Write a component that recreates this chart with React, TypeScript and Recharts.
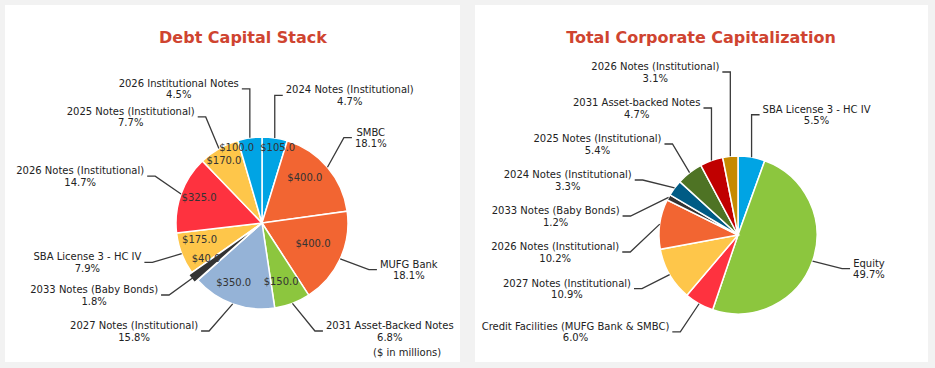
import { Cell, Pie, PieChart } from "recharts";

// Debt Capital Stack ($ in millions), clockwise from 12 o'clock
const debtNames = [
  "2024 Notes (Institutional)",
  "SMBC",
  "MUFG Bank",
  "2031 Asset-Backed Notes",
  "2027 Notes (Institutional)",
  "2033 Notes (Baby Bonds)",
  "SBA License 3 - HC IV",
  "2026 Notes (Institutional)",
  "2025 Notes (Institutional)",
  "2026 Institutional Notes",
];
const debtValues = [105, 400, 400, 150, 350, 40, 175, 325, 170, 100];
const debtColors = [
  "#00a4e4", "#f26532", "#f26532", "#8cc63e", "#95b3d7",
  "#333333", "#fec64a", "#fe323f", "#fec64a", "#00a4e4",
];
const debtExploded = 5; // the Baby Bonds slice is pulled out a little

// Total Corporate Capitalization (%), clockwise from 12 o'clock
const capNames = [
  "SBA License 3 - HC IV",
  "Equity",
  "Credit Facilities (MUFG Bank & SMBC)",
  "2027 Notes (Institutional)",
  "2026 Notes (Institutional)",
  "2033 Notes (Baby Bonds)",
  "2024 Notes (Institutional)",
  "2025 Notes (Institutional)",
  "2031 Asset-backed Notes",
  "2026 Notes (Institutional)",
];
const capValues = [5.5, 49.7, 6.0, 10.9, 10.2, 1.2, 3.3, 5.4, 4.7, 3.1];
const capColors = [
  "#00a4e4", "#8cc63e", "#fe323f", "#fec64a", "#f26532",
  "#333333", "#005b85", "#4e7324", "#c00000", "#c68a00",
];

const FONT = "'DejaVu Sans', Verdana, sans-serif";
const TITLE_COLOR = "#cf4430";
const REACH = 38;

let ctx: CanvasRenderingContext2D | null = null;
function textWidth(s: string) {
  if (!ctx) ctx = document.createElement("canvas").getContext("2d");
  if (!ctx) return s.length * 5.6;
  ctx.font = `10px ${FONT}`;
  return ctx.measureText(s).width;
}

const money = (v: number) => `$${v.toFixed(1)}`;

function midAngles(values: number[]) {
  const total = values.reduce((a, b) => a + b, 0);
  let acc = 0;
  return values.map((v) => {
    const a = ((acc + v / 2) / total) * Math.PI * 2;
    acc += v;
    return a;
  });
}

// outside labels: pick a side, then push them apart vertically
function spreadLabels(values: number[], cy: number, radius: number, gap: number, minY: number, maxY: number) {
  const items = midAngles(values).map((a, i) => ({
    i,
    side: Math.sin(a) >= 0 ? 1 : -1,
    want: cy - radius * Math.cos(a),
  }));
  const ys: number[] = new Array(values.length).fill(0);
  const sides = items.map((it) => it.side);
  for (const side of [1, -1]) {
    const list = items.filter((it) => it.side === side).sort((a, b) => a.want - b.want);
    const groups: { members: typeof list; top: number }[] = [];
    for (const it of list) {
      groups.push({ members: [it], top: it.want });
      while (groups.length > 1) {
        const g = groups[groups.length - 1];
        const p = groups[groups.length - 2];
        if (p.top + p.members.length * gap <= g.top) break;
        p.members.push(...g.members);
        groups.pop();
        const mean = p.members.reduce((s, m) => s + m.want, 0) / p.members.length;
        p.top = mean - ((p.members.length - 1) * gap) / 2;
      }
    }
    const order: number[] = [];
    const pos: number[] = [];
    groups.forEach((g) => g.members.forEach((m, k) => { order.push(m.i); pos.push(g.top + k * gap); }));
    for (let k = 0; k < pos.length; k++) pos[k] = Math.max(pos[k], minY, k ? pos[k - 1] + gap : -Infinity);
    for (let k = pos.length - 1; k >= 0; k--) pos[k] = Math.min(pos[k], maxY, k < pos.length - 1 ? pos[k + 1] - gap : Infinity);
    order.forEach((idx, k) => { ys[idx] = pos[k]; });
  }
  return { ys, sides };
}

// inside value labels: sit near the rim, nudge apart sideways when they collide
function spreadValues(values: number[], r: number) {
  const pts = midAngles(values).map((a, i) => {
    const w = textWidth(money(values[i]));
    const rr = r - 6 - Math.abs(Math.sin(a)) * (w / 2) - Math.abs(Math.cos(a)) * 6;
    return { rr, x: rr * Math.sin(a), y: -rr * Math.cos(a), w, shift: 0 };
  });
  for (let i = 0; i < pts.length; i++) {
    for (let j = i + 1; j < pts.length; j++) {
      const p = pts[i];
      const q = pts[j];
      const need = (p.w + q.w) / 2 + 6;
      const dx = q.x + q.shift - (p.x + p.shift);
      if (Math.abs(q.y - p.y) < 12 && Math.abs(dx) < need) {
        const push = (need - Math.abs(dx)) / 2;
        const dir = dx >= 0 ? 1 : -1;
        p.shift -= dir * push;
        q.shift += dir * push;
      }
    }
  }
  return pts;
}

function makeLabel(names: string[], layout: { ys: number[]; sides: number[] }) {
  return (props: any) => {
    const { cx, cy, midAngle, outerRadius, percent, index } = props;
    const rad = Math.PI / 180;
    const sx = cx + outerRadius * Math.cos(-midAngle * rad);
    const sy = cy + outerRadius * Math.sin(-midAngle * rad);
    const side = layout.sides[index];
    const y = layout.ys[index];
    const R = outerRadius + REACH;
    const dx = Math.sqrt(Math.max(R * R - (y - cy) * (y - cy), 0));
    let ax = cx + side * dx;
    ax = side > 0 ? Math.max(ax, sx + 8) : Math.min(ax, sx - 8);
    const ex = ax - side * 8;
    const name = names[index];
    const pct = `${(percent * 100).toFixed(1)}%`;
    const w = Math.max(textWidth(name), textWidth(pct));
    const tx = ax + side * (3 + w / 2);
    return (
      <g>
        <polyline
          points={`${sx},${sy} ${ex},${y} ${ax},${y}`}
          fill="none"
          stroke="#3a3a3a"
          strokeWidth={1.3}
        />
        <text x={tx} y={y - 2} textAnchor="middle" fontSize={10} fontFamily={FONT} fill="#222">
          {name}
        </text>
        <text x={tx} y={y + 9.5} textAnchor="middle" fontSize={10} fontFamily={FONT} fill="#222">
          {pct}
        </text>
      </g>
    );
  };
}

function makeValueLabel(inner: { rr: number; shift: number }[], center: { cx: number; cy: number }) {
  return (props: any) => {
    const { midAngle, index, value } = props;
    const rad = Math.PI / 180;
    const iv = inner[index];
    return (
      <text
        x={center.cx + iv.rr * Math.cos(-midAngle * rad) + iv.shift}
        y={center.cy + iv.rr * Math.sin(-midAngle * rad)}
        textAnchor="middle"
        dominantBaseline="central"
        fontSize={10}
        fontFamily={FONT}
        fill="#333"
      >
        {money(Number(value))}
      </text>
    );
  };
}

const H = 357;
const debtGeo = { cx: 252, cy: 213, r: 86 };
const capGeo = { cx: 258, cy: 225, r: 79 };
const EXPLODE = 4;

export default function App() {
  const debtData = debtNames.map((name, i) => ({ name, value: debtValues[i] }));
  const capData = capNames.map((name, i) => ({ name, value: capValues[i] }));
  const debtLayout = spreadLabels(debtValues, debtGeo.cy, debtGeo.r + REACH, 28, 62, 326);
  const capLayout = spreadLabels(capValues, capGeo.cy, capGeo.r + REACH, 36, 67, 335);
  const debtInner = spreadValues(debtValues, debtGeo.r);
  const ea = midAngles(debtValues)[debtExploded];
  const ecx = debtGeo.cx + EXPLODE * Math.sin(ea);
  const ecy = debtGeo.cy - EXPLODE * Math.cos(ea);

  const panel = (left: number, width: number) => ({
    position: "absolute" as const,
    left,
    top: 5,
    width,
    height: H,
    background: "#ffffff",
  });
  const title = {
    position: "absolute" as const,
    top: 27,
    width: 360,
    textAlign: "center" as const,
    fontFamily: FONT,
    fontWeight: 700,
    fontSize: 16,
    lineHeight: "22px",
    color: TITLE_COLOR,
  };

  return (
    <div
      style={{
        position: "absolute",
        left: 0,
        top: 0,
        width: 935,
        height: 368,
        background: "#f2f2f2",
        overflow: "hidden",
      }}
    >
      <div style={panel(5, 455)}>
        <PieChart width={455} height={H}>
          <Pie
            data={debtData}
            dataKey="value"
            nameKey="name"
            cx={debtGeo.cx}
            cy={debtGeo.cy}
            outerRadius={debtGeo.r}
            startAngle={90}
            endAngle={-270}
            stroke="#ffffff"
            strokeWidth={1.5}
            labelLine={false}
            label={makeLabel(debtNames, debtLayout)}
            isAnimationActive={false}
          >
            {debtData.map((d, i) => (
              <Cell key={`debt-${i}`} fill={i === debtExploded ? "#ffffff" : debtColors[i]} />
            ))}
          </Pie>
          <Pie
            data={debtData}
            dataKey="value"
            nameKey="name"
            cx={ecx}
            cy={ecy}
            outerRadius={debtGeo.r}
            startAngle={90}
            endAngle={-270}
            labelLine={false}
            label={makeValueLabel(debtInner, debtGeo)}
            isAnimationActive={false}
          >
            {debtData.map((d, i) => (
              <Cell
                key={`boom-${i}`}
                fill={i === debtExploded ? debtColors[i] : "transparent"}
                stroke={i === debtExploded ? "#ffffff" : "none"}
                strokeWidth={1.5}
              />
            ))}
          </Pie>
        </PieChart>
      </div>
      <div style={panel(475, 453)}>
        <PieChart width={453} height={H}>
          <Pie
            data={capData}
            dataKey="value"
            nameKey="name"
            cx={capGeo.cx}
            cy={capGeo.cy}
            outerRadius={capGeo.r}
            startAngle={90}
            endAngle={-270}
            stroke="#ffffff"
            strokeWidth={1.5}
            labelLine={false}
            label={makeLabel(capNames, capLayout)}
            isAnimationActive={false}
          >
            {capData.map((d, i) => (
              <Cell key={`cap-${i}`} fill={capColors[i]} />
            ))}
          </Pie>
        </PieChart>
      </div>
      <div style={{ ...title, left: 243 - 180 }}>Debt Capital Stack</div>
      <div style={{ ...title, left: 701 - 180 }}>Total Corporate Capitalization</div>
      <div
        style={{
          position: "absolute",
          left: 373,
          top: 347,
          fontFamily: FONT,
          fontSize: 10,
          color: "#222",
        }}
      >
        ($ in millions)
      </div>
    </div>
  );
}
